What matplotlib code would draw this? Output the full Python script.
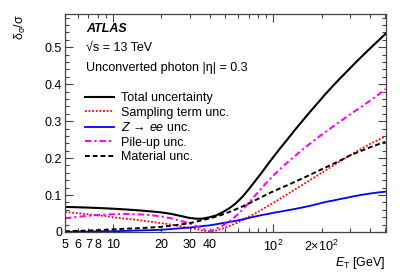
import matplotlib
matplotlib.use("Agg")
from matplotlib import pyplot as plt
from matplotlib.ticker import FixedLocator, FuncFormatter, MultipleLocator

# Photon energy scale uncertainty vs ET
et = [5, 6, 7, 8, 9, 10, 12, 14, 17, 20, 23, 26, 30, 33, 36, 40, 44, 48,
      53, 58, 64, 70, 77, 85, 93, 100, 110, 120, 135, 150, 170, 190, 210,
      235, 260, 290, 320, 360, 400, 450, 500]
total = [0.068, 0.067, 0.066, 0.065, 0.064, 0.063, 0.061, 0.059, 0.056,
         0.053, 0.049, 0.044, 0.038, 0.036, 0.036, 0.040, 0.045, 0.053,
         0.064, 0.077, 0.095, 0.115, 0.138, 0.162, 0.185, 0.203, 0.226,
         0.246, 0.274, 0.298, 0.326, 0.350, 0.372, 0.395, 0.415, 0.436,
         0.455, 0.477, 0.496, 0.517, 0.536]
sampling = [0.054, 0.051, 0.048, 0.045, 0.043, 0.040, 0.036, 0.033, 0.028,
            0.024, 0.020, 0.016, 0.011, 0.008, 0.004, 0.001, 0.004, 0.009,
            0.016, 0.023, 0.032, 0.041, 0.050, 0.061, 0.071, 0.079, 0.090,
            0.100, 0.114, 0.126, 0.141, 0.154, 0.166, 0.179, 0.191, 0.203,
            0.214, 0.227, 0.238, 0.249, 0.259]
zee = [0.000, 0.001, 0.001, 0.002, 0.002, 0.002, 0.003, 0.004, 0.005,
       0.006, 0.008, 0.010, 0.012, 0.014, 0.016, 0.018, 0.021, 0.024,
       0.027, 0.030, 0.034, 0.038, 0.042, 0.046, 0.049, 0.052, 0.055,
       0.058, 0.062, 0.066, 0.071, 0.076, 0.081, 0.085, 0.089, 0.093,
       0.097, 0.101, 0.104, 0.107, 0.109]
pileup = [0.037, 0.041, 0.044, 0.046, 0.047, 0.048, 0.049, 0.048, 0.046,
          0.042, 0.037, 0.031, 0.023, 0.016, 0.009, 0.001, 0.009, 0.017,
          0.028, 0.042, 0.060, 0.078, 0.099, 0.120, 0.139, 0.153, 0.170,
          0.185, 0.204, 0.221, 0.240, 0.256, 0.270, 0.285, 0.299, 0.313,
          0.326, 0.341, 0.355, 0.371, 0.387]
material = [0.002, 0.003, 0.004, 0.005, 0.006, 0.007, 0.009, 0.010, 0.012,
            0.014, 0.017, 0.020, 0.024, 0.028, 0.032, 0.037, 0.042, 0.047,
            0.054, 0.061, 0.069, 0.077, 0.086, 0.095, 0.104, 0.110, 0.118,
            0.125, 0.135, 0.144, 0.155, 0.165, 0.174, 0.184, 0.193, 0.204,
            0.212, 0.221, 0.229, 0.237, 0.244]

xmajor = [10, 100]
xmajor_labels = ["10", r"$10^{2}$"]
xminor = [5, 6, 7, 8, 9, 20, 30, 40, 50, 60, 70, 80, 90, 200, 300, 400, 500]
xminor_labels = ["5", "6", "7", "8", "", "20", "30", "40", "", "", "", "", "",
                 r"$2{\times}10^{2}$", "", "", ""]

plt.rcParams["font.family"] = ["Liberation Sans", "DejaVu Sans"]
plt.rcParams["font.size"] = 9
plt.rcParams["mathtext.fontset"] = "custom"
plt.rcParams["mathtext.rm"] = "Liberation Sans"
plt.rcParams["mathtext.it"] = "Liberation Sans:italic"
plt.rcParams["mathtext.bf"] = "Liberation Sans:bold"

W, H = 407, 277
fig = plt.figure(figsize=(W / 100, H / 100), dpi=100)
ax = fig.add_axes([65 / W, (H - 232) / H, (386 - 65) / W, (232 - 14) / H])

ax.plot(et, total, color="black", lw=1.5, label="Total uncertainty")
ax.plot(et, sampling, color="#ff0000", lw=1.3, linestyle=(0, (1, 1)),
        label="Sampling term unc.")
ax.plot(et, zee, color="#0000ff", lw=1.3, label=r"$Z\,\rightarrow\,ee$ unc.")
ax.plot(et, pileup, color="#ff00ff", lw=1.5, linestyle=(0, (3, 1.5, 1, 1.5)),
        label="Pile-up unc.")
ax.plot(et, material, color="black", lw=1.4, linestyle=(0, (2.5, 1.5)),
        label="Material unc.")

ax.set_xscale("log")
ax.set_xlim(5, 505)
ax.set_ylim(0, 0.59)

ax.xaxis.set_major_locator(FixedLocator(xmajor))
ax.set_xticks(xmajor, labels=xmajor_labels)
ax.set_xticks(xminor, labels=xminor_labels, minor=True)
ax.yaxis.set_major_locator(MultipleLocator(0.1))
ax.yaxis.set_minor_locator(MultipleLocator(0.02))
ax.yaxis.set_major_formatter(FuncFormatter(
    lambda v, p: "0" if abs(v) < 1e-9 else "%.1f" % v))

ax.tick_params(which="both", direction="in", top=True, right=True,
               width=0.8, color="#444444")
ax.tick_params(which="major", length=6)
ax.tick_params(which="minor", length=3.2)
ax.tick_params(axis="x", which="both", pad=5, labelsize=9)
ax.tick_params(axis="y", which="both", pad=2, labelsize=9)
for sp in ax.spines.values():
    sp.set_linewidth(0.9)
    sp.set_color("#444444")

# Text block
fig.text(86 / W, 1 - 29 / H, "ATLAS", fontweight="bold", fontstyle="italic",
         va="center", ha="left")
fig.text(86 / W, 1 - 48 / H, "\u221as = 13 TeV", va="center", ha="left")
fig.text(86 / W, 1 - 68 / H, "Unconverted photon |\u03b7| = 0.3",
         va="center", ha="left")

ax.legend(loc="upper left", bbox_to_anchor=(85 / W, 1 - 92 / H),
          bbox_transform=fig.transFigure, frameon=False, fontsize=9,
          handlelength=2.3, handletextpad=0.6, labelspacing=0.2,
          borderpad=0, borderaxespad=0)

fig.text(20 / W, 1 - 14 / H, r"$\mathrm{\delta_{\sigma}/\sigma}$",
         rotation=90, ha="center", va="top")
fig.text(386 / W, 1 - 263 / H, r"$E_{\mathrm{T}}$ [GeV]", ha="right",
         va="center")

fig.savefig("out.png", dpi=100)
